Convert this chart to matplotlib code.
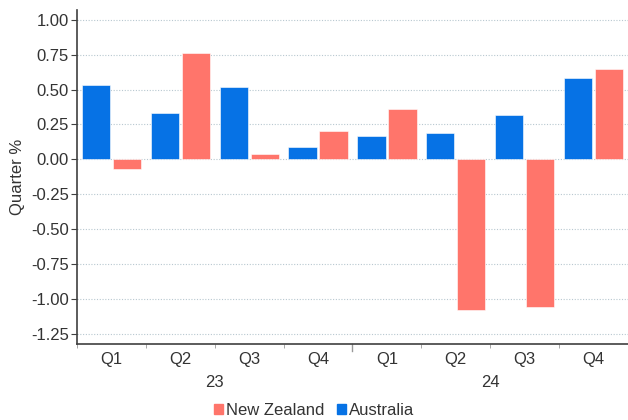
import numpy as np
import matplotlib
matplotlib.use('Agg')
import matplotlib.pyplot as plt

plt.rcParams['font.family'] = ['Liberation Sans', 'DejaVu Sans']

quarters = ['Q1', 'Q2', 'Q3', 'Q4', 'Q1', 'Q2', 'Q3', 'Q4']
years = ['23', '24']
australia = [0.53, 0.33, 0.52, 0.09, 0.17, 0.19, 0.32, 0.58]
new_zealand = [-0.07, 0.76, 0.04, 0.20, 0.36, -1.08, -1.06, 0.65]

blue = '#0672e5'
red = '#ff756b'
grey = '#404040'
txt = '#333333'
fs = 12

fig = plt.figure(figsize=(6.28, 4.2), dpi=100)
ax = fig.add_axes([0.1226, 0.181, 0.8774, 0.795])

x = np.arange(len(quarters))
w = 0.41
ax.bar(x - 0.225, australia, w, color=blue, edgecolor='#ffffff', linewidth=0.4, zorder=3)
ax.bar(x + 0.225, new_zealand, w, color=red, edgecolor='#ffffff', linewidth=0.4, zorder=3)

ax.set_xlim(-0.5, 7.5)
ax.set_ylim(-1.325, 1.07)
yt = np.arange(-1.25, 1.01, 0.25)
ax.set_yticks(yt)
ax.set_yticklabels([f'{v:.2f}' for v in yt])
ax.yaxis.grid(True, linestyle=(0, (1, 1.5)), color='#b8c8d0', linewidth=0.8, zorder=0)

for s in ['top', 'right']:
    ax.spines[s].set_visible(False)
for s in ['left', 'bottom']:
    ax.spines[s].set_color(grey)
    ax.spines[s].set_linewidth(1.2)

ax.tick_params(axis='y', length=4, color=grey, labelsize=fs, labelcolor=txt, pad=2)

# quarter labels at group centres, boundary ticks between groups
ax.set_xticks(x)
ax.set_xticklabels(quarters)
ax.tick_params(axis='x', which='major', length=0, labelsize=fs, labelcolor=txt, pad=6)
ax.set_xticks(np.arange(-0.5, 8, 1), minor=True)
ax.tick_params(axis='x', which='minor', length=3, color='#999999')
ax.axvline(3.5, ymin=-0.02, ymax=0, color='#999999', linewidth=1, clip_on=False)

# year labels under each half
for i, yr in enumerate(years):
    ax.text(1.5 + 4 * i, -0.114, yr, transform=ax.get_xaxis_transform(),
            ha='center', va='center', fontsize=fs, color=txt)

ax.set_ylabel('Quarter %', fontsize=fs, color=txt, labelpad=4)

handles = [plt.Rectangle((0, 0), 1, 1, color=red), plt.Rectangle((0, 0), 1, 1, color=blue)]
fig.legend(handles, ['New Zealand', 'Australia'], loc='center', bbox_to_anchor=(0.5, 0.022),
           ncol=2, frameon=False, fontsize=fs, handlelength=0.55, handleheight=0.55,
           handletextpad=0.15, columnspacing=0.8, labelcolor=txt)

fig.savefig('out.png', dpi=100)
